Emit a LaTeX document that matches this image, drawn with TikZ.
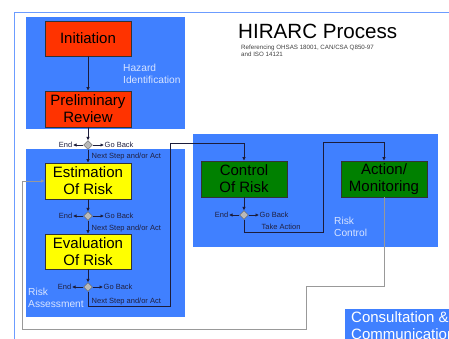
\documentclass[tikz,border=0pt]{standalone}
\usepackage{fontspec}
\setmainfont{Liberation Sans}
\usetikzlibrary{shapes.geometric,arrows.meta}
\definecolor{bluebg}{HTML}{4080FF}
\definecolor{redbox}{HTML}{FF3300}
\definecolor{yelbox}{HTML}{FFFF00}
\definecolor{grnbox}{HTML}{008000}
\definecolor{lnclr}{HTML}{1C1C3A}
\definecolor{lbl}{HTML}{202040}
\definecolor{framec}{HTML}{6C9CFF}
\definecolor{areatxt}{HTML}{D8E4FF}
\begin{document}
\begin{tikzpicture}[x=1pt,y=-1pt,
  region/.style={fill=bluebg,anchor=north west,inner sep=0,outer sep=0},
  procbox/.style={draw=black!80,line width=0.6pt,minimum width=86pt,minimum height=36pt,
     align=center,inner sep=0,font=\fontsize{15}{17}\selectfont},
  dec/.style={diamond,draw=gray!70!black,fill=gray!55,line width=0.4pt,minimum width=9pt,minimum height=9pt,inner sep=0},
  small/.style={font=\fontsize{7.5}{8}\selectfont,text=lbl,inner sep=0.5pt},
  areal/.style={font=\fontsize{10.2}{12}\selectfont,text=areatxt,align=left,anchor=west,inner sep=0},
  arr/.style={draw=lnclr,line width=0.6pt,-{Latex[length=3.5pt,width=3.5pt]}},
  retline/.style={draw=gray!80,line width=0.9pt,-{Latex[length=3.5pt,width=3.5pt]}}]
\useasboundingbox (0,0) rectangle (449,339);
\clip (0,0) rectangle (449,339);
% frame
\draw[framec,line width=0.8pt] (14,339) -- (14,12) -- (449,12);
% title
\node[anchor=base west,inner sep=0,font=\fontsize{20.6}{22}\selectfont] (title) at (238,39) {HIRARC Process};
\node[anchor=north west,inner sep=0,align=left,font=\fontsize{6.2}{7.8}\selectfont,text=black!75] (sub) at (241,44.5) {Referencing OHSAS 18001, CAN/CSA Q850-97\\and ISO 14121};
% regions
\node[region,minimum width=159pt,minimum height=112pt] (hz) at (26,17) {};
\node[region,minimum width=159pt,minimum height=168pt] (ra) at (26,149) {};
\node[region,minimum width=245pt,minimum height=113pt] (rc) at (193,134) {};
\node[region,minimum width=110pt,minimum height=40pt] (cc) at (345,309) {};
\node[anchor=north west,inner sep=0,align=left,text=white,font=\fontsize{15}{17}\selectfont] (cctxt) at (351,311) {Consultation \&\\Communication};
% area labels
\node[areal] (hzl) at (123,74) {Hazard\\Identification};
\node[areal] (ral) at (28,298) {Risk\\Assessment};
\node[areal] (rcl) at (334,227) {Risk\\Control};
% process boxes
\node[procbox,fill=redbox,minimum height=35pt] (init) at (88,38.5) {Initiation};
\node[procbox,fill=redbox] (prel) at (88,109) {Preliminary\\Review};
\node[procbox,fill=yelbox] (est) at (88,181) {Estimation\\Of Risk};
\node[procbox,fill=yelbox,minimum height=35pt] (eval) at (88,251.5) {Evaluation\\Of Risk};
\node[procbox,fill=grnbox] (ctrl) at (244,179) {Control\\Of Risk};
\node[procbox,fill=grnbox] (act) at (384,179) {Action/\\Monitoring};
% decisions
\node[dec] (d1) at (88,145) {};
\node[dec] (d2) at (88,216) {};
\node[dec] (d3) at (88,287) {};
\node[dec] (d4) at (244,215) {};
% small labels
\node[small,anchor=east] (e1) at (73,145) {End};
\node[small,anchor=west] (g1) at (104,145) {Go Back};
\node[small,anchor=west] (n1) at (91,157) {Next Step and/or Act};
\node[small,anchor=east] (e2) at (73,216) {End};
\node[small,anchor=west] (g2) at (104,216) {Go Back};
\node[small,anchor=west] (n2) at (91,229) {Next Step and/or Act};
\node[small,anchor=east] (e3) at (72,287) {End};
\node[small,anchor=west] (g3) at (103,287) {Go Back};
\node[small,anchor=west] (n3) at (91,302) {Next Step and/or Act};
\node[small,anchor=east] (e4) at (229,215) {End};
\node[small,anchor=west] (g4) at (259,215) {Go Back};
\node[small,anchor=west] (ta) at (261,227) {Take Action};
% coordinates for bends
\coordinate (c1) at (170,306);
\coordinate (c2) at (170,143);
\coordinate (c3) at (323,232);
\coordinate (c4) at (323,142);
\coordinate (r1) at (306,286);
\coordinate (r2) at (22,329);
% connectors
\draw[arr] (init) -- (prel);
\draw[arr] (prel) -- (d1);
\draw[arr] (d1) -- (est);
\draw[arr] (d1) -- (e1);
\draw[arr] (d1) -- (g1);
\draw[arr] (est) -- (d2);
\draw[arr] (d2) -- (eval);
\draw[arr] (d2) -- (e2);
\draw[arr] (d2) -- (g2);
\draw[arr] (eval) -- (d3);
\draw[arr] (d3) -- (e3);
\draw[arr] (d3) -- (g3);
\draw[arr] (d3.south) |- (c1) -- (c2) -| (ctrl.north);
\draw[arr] (ctrl) -- (d4);
\draw[arr] (d4) -- (e4);
\draw[arr] (d4) -- (g4);
\draw[arr] (d4.south) |- (c3) -- (c4) -| (act.north);
\draw[retline] (act.south) |- (r1) |- (r2) |- (est.west);
\end{tikzpicture}
\end{document}
